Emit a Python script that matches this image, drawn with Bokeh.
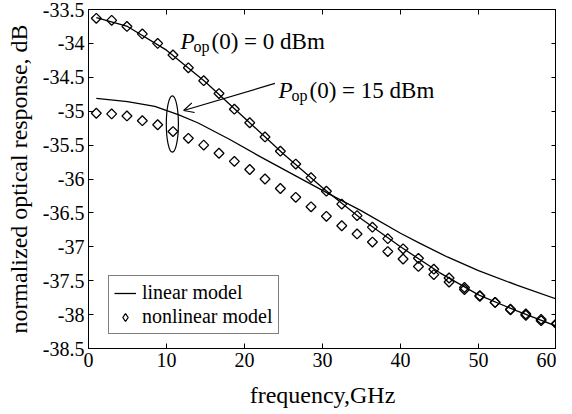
import math
import numpy as np
from bokeh.plotting import figure
from bokeh.models import (FixedTicker, LinearAxis, Range1d, Label, Arrow, OpenHead,
                          Legend, LegendItem, CustomJSTickFormatter)
from bokeh.embed import file_html
from bokeh.resources import INLINE

# ---- data ----
freq_nl = [1.0, 2.97, 4.93, 6.9, 8.87, 10.83, 12.8, 14.77, 16.73, 18.7, 20.67,
           22.63, 24.6, 26.57, 28.53, 30.5, 32.47, 34.43, 36.4, 38.37, 40.33,
           42.3, 44.27, 46.23, 48.2, 50.17, 52.13, 54.1, 56.07, 58.03, 60.0]
nonlinear_0dBm = [-33.63, -33.66, -33.75, -33.86, -34.00, -34.17, -34.36, -34.55,
                  -34.74, -34.97, -35.17, -35.38, -35.59, -35.78, -35.98, -36.18,
                  -36.37, -36.54, -36.71, -36.88, -37.03, -37.17, -37.33, -37.46,
                  -37.60, -37.72, -37.82, -37.92, -37.99, -38.07, -38.14]
nonlinear_15dBm = [-35.03, -35.04, -35.07, -35.14, -35.20, -35.30, -35.40, -35.50,
                   -35.62, -35.74, -35.86, -36.00, -36.14, -36.27, -36.41, -36.55,
                   -36.69, -36.81, -36.93, -37.07, -37.18, -37.29, -37.41, -37.52,
                   -37.63, -37.73, -37.82, -37.93, -38.01, -38.09, -38.13]
freq_lin_0 = [1, 5, 10, 15, 20, 25, 30, 35, 40, 45, 50, 55, 60]
linear_0dBm = [-33.62, -33.75, -34.10, -34.57, -35.10, -35.63, -36.13, -36.59,
               -37.00, -37.38, -37.71, -37.95, -38.17]
freq_lin_15 = [1, 5, 8.5, 11.5, 14, 18, 22, 26.5, 31, 35, 40, 42.5, 46, 50, 55, 60]
linear_15dBm = [-34.81, -34.86, -34.93, -35.05, -35.17, -35.41, -35.67, -35.95,
                -36.23, -36.47, -36.80, -36.95, -37.15, -37.35, -37.57, -37.77]

x_ticks = [0, 10, 20, 30, 40, 50, 60]
y_ticks = [-38.5, -38, -37.5, -37, -36.5, -36, -35.5, -35, -34.5, -34, -33.5]
y_tick_labels = ["-38.5", "-38", "-37.5", "-37", "-36.5", "-36", "-35.5", "-35",
                 "-34.5", "-34", "-33.5"]
x_title = "frequency,GHz"
y_title = "normalized optical response, dB"

FONT = "Liberation Serif"

p = figure(width=556, height=410, output_backend="svg", toolbar_location=None,
           x_range=Range1d(0, 60), y_range=Range1d(-38.5, -33.5),
           min_border_left=88, min_border_right=0, min_border_top=9,
           min_border_bottom=0,
           x_axis_label=x_title, y_axis_label=y_title)
p.xgrid.visible = False
p.ygrid.visible = False
p.outline_line_color = "black"
p.outline_line_width = 1
p.background_fill_color = "white"
p.border_fill_color = "white"

p.xaxis.ticker = FixedTicker(ticks=x_ticks)
p.yaxis.ticker = FixedTicker(ticks=y_ticks)
p.yaxis.major_label_overrides = {float(v): s for v, s in zip(y_ticks, y_tick_labels)}

for ax in (p.xaxis[0], p.yaxis[0]):
    ax.axis_line_color = "black"
    ax.major_tick_line_color = "black"
    ax.major_tick_in = 5
    ax.major_tick_out = 0
    ax.minor_tick_line_color = None
    ax.major_label_text_font = FONT
    ax.major_label_text_font_size = "20px"
    ax.major_label_text_color = "black"
    ax.major_label_standoff = 4
    ax.axis_label_text_font = FONT
    ax.axis_label_text_font_size = "24px"
    ax.axis_label_text_font_style = "normal"
    ax.axis_label_text_color = "black"
p.xaxis.axis_label_standoff = 12
p.yaxis.axis_label_standoff = 8

# ticks on right and top (no labels)
blank = CustomJSTickFormatter(code="return '';")
right_ax = LinearAxis(ticker=FixedTicker(ticks=y_ticks), formatter=blank)
top_ax = LinearAxis(ticker=FixedTicker(ticks=x_ticks), formatter=blank)
for ax in (right_ax, top_ax):
    ax.major_tick_in = 5
    ax.major_tick_out = 0
    ax.minor_tick_line_color = None
    ax.major_label_text_font_size = "1px"
    ax.major_label_standoff = 0
    ax.axis_label_standoff = 0
    ax.axis_line_color = "black"
p.add_layout(right_ax, "right")
p.add_layout(top_ax, "above")

# curves
r_lin0 = p.line(freq_lin_0, linear_0dBm, line_color="black", line_width=1.3)
p.line(freq_lin_15, linear_15dBm, line_color="black", line_width=1.3)
p.scatter(freq_nl, nonlinear_0dBm, marker="square", angle=math.pi / 4, size=7,
          fill_color=None, line_color="black", line_width=1.3)
p.scatter(freq_nl, nonlinear_15dBm, marker="square", angle=math.pi / 4, size=7,
          fill_color=None, line_color="black", line_width=1.3)
# legend proxy for the diamond symbol (not drawn in the plot area)
r_diam = p.scatter(x=np.array([np.nan]), y=np.array([np.nan]), marker="diamond",
                   size=11, fill_color=None, line_color="black", line_width=1.3)

# ellipse and arrow annotation
p.ellipse(x=[10.75], y=[-35.19], width=1.55, height=0.83, fill_color=None,
          line_color="black", line_width=1.2)
p.add_layout(Arrow(end=OpenHead(size=10, line_width=1.2, line_color="black"),
                   x_start=23.9, y_start=-34.59, x_end=12.2, y_end=-34.99,
                   line_color="black", line_width=1.2))


def power_label(x, y, rest):
    p.add_layout(Label(x=x, y=y, text="P", text_font=FONT, text_font_size="23px",
                       text_font_style="italic", text_baseline="alphabetic",
                       text_color="black"))
    p.add_layout(Label(x=x, y=y - 0.08, x_offset=13, text="op", text_font=FONT,
                       text_font_size="16px", text_baseline="alphabetic",
                       text_color="black"))
    p.add_layout(Label(x=x, y=y, x_offset=31, text=rest, text_font=FONT,
                       text_font_size="23px", text_baseline="alphabetic",
                       text_color="black"))


power_label(11.8, -33.965, "(0) = 0 dBm")
power_label(24.36, -34.69, "(0) = 15 dBm")

# legend
lg = Legend(items=[LegendItem(label="linear model", renderers=[r_lin0]),
                   LegendItem(label="nonlinear model", renderers=[r_diam])])
lg.location = (20, 14)
lg.border_line_color = "black"
lg.border_line_width = 1
lg.background_fill_color = "white"
lg.background_fill_alpha = 1
lg.label_text_font = FONT
lg.label_text_font_size = "20px"
lg.label_text_color = "black"
lg.padding = 5
lg.spacing = 1
lg.margin = 0
lg.glyph_width = 22
lg.glyph_height = 20
lg.label_standoff = 6
lg.label_height = 20
p.add_layout(lg)

open("out.html", "w").write(file_html(p, INLINE))
